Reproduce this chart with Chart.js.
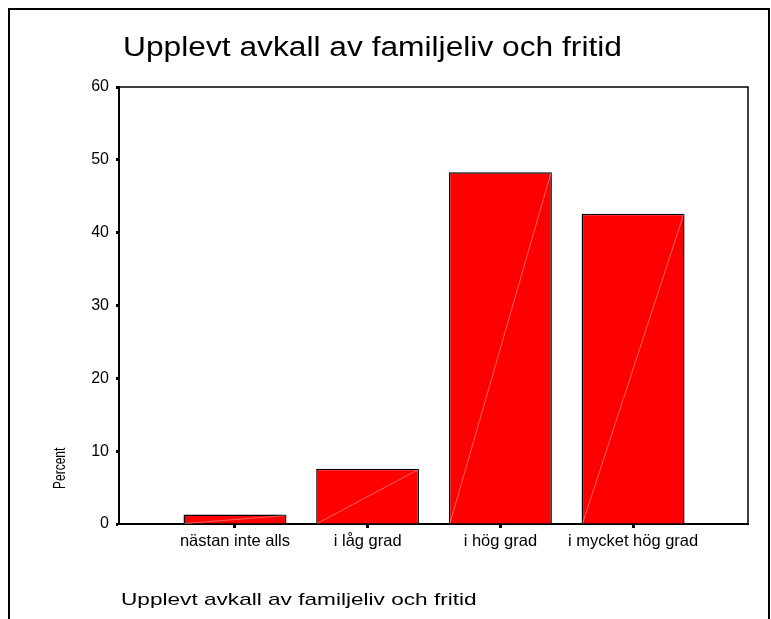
<!DOCTYPE html>
<html lang="sv">
<head>
<meta charset="UTF-8">
<title>Upplevt avkall av familjeliv och fritid</title>
<script src="https://cdn.jsdelivr.net/npm/chart.js"></script>
<style>
  html, body { margin: 0; padding: 0; background: #fff; }
  #wrap { position: relative; width: 771px; height: 619px; }
</style>
</head>
<body>
<div id="wrap"><canvas id="chart"></canvas></div>
<script>
  // Chart texts
  const chartTitle = 'Upplevt avkall av familjeliv och fritid';
  const xTitle = 'Upplevt avkall av familjeliv och fritid';
  const yTitle = 'Percent';

  // Data
  const categories = ['nästan inte alls', 'i låg grad', 'i hög grad', 'i mycket hög grad'];
  const percents = [1.3, 7.6, 48.3, 42.6];
  const yTicks = [0, 10, 20, 30, 40, 50, 60];

  const FONT = '"Liberation Sans", Arial, sans-serif';

  // text drawn with a horizontal stretch, like the original export
  function stretchedText(ctx, text, x, y, size, stretch, rotate) {
    ctx.save();
    ctx.translate(x, y);
    if (rotate) {
      ctx.rotate(-Math.PI / 2);
      ctx.scale(1, stretch);
    } else {
      ctx.scale(stretch, 1);
    }
    ctx.font = size + 'px ' + FONT;
    ctx.fillStyle = '#000';
    ctx.textAlign = 'left';
    ctx.textBaseline = 'alphabetic';
    ctx.fillText(text, 0, 0);
    ctx.restore();
  }

  const decorPlugin = {
    id: 'decor',
    beforeDraw(chart) {
      const ctx = chart.ctx;
      ctx.save();
      ctx.fillStyle = '#fff';
      ctx.fillRect(0, 0, chart.width, chart.height);
      ctx.restore();
    },
    afterDatasetsDraw(chart) {
      // faint diagonal inside each bar
      const ctx = chart.ctx;
      ctx.save();
      ctx.strokeStyle = 'rgba(255,255,255,0.55)';
      ctx.lineWidth = 0.7;
      chart.getDatasetMeta(0).data.forEach(bar => {
        const p = bar.getProps(['x', 'y', 'base', 'width'], true);
        ctx.beginPath();
        ctx.moveTo(p.x - p.width / 2 + 1, p.base);
        ctx.lineTo(p.x + p.width / 2 - 1, p.y + 1);
        ctx.stroke();
      });
      ctx.restore();
    },
    afterDraw(chart) {
      const ctx = chart.ctx;
      const a = chart.chartArea;
      ctx.save();
      ctx.strokeStyle = '#000';
      // plot box
      ctx.lineWidth = 1.5;
      ctx.beginPath();
      ctx.moveTo(a.left, a.top);
      ctx.lineTo(a.right, a.top);
      ctx.lineTo(a.right, a.bottom);
      ctx.stroke();
      // outer frame
      ctx.lineWidth = 2;
      ctx.beginPath();
      ctx.moveTo(9, chart.height + 5);
      ctx.lineTo(9, 9);
      ctx.lineTo(chart.width - 2, 9);
      ctx.lineTo(chart.width - 2, chart.height + 5);
      ctx.stroke();
      ctx.restore();

      stretchedText(ctx, chartTitle, a.left + 4, a.top - 31, 27, 1.175, false);
      stretchedText(ctx, xTitle, a.left + 2, a.bottom + 81, 17, 1.33, false);
      stretchedText(ctx, yTitle, a.left - 54, a.bottom - 35, 12, 1.36, true);
    }
  };

  new Chart(document.getElementById('chart'), {
    type: 'bar',
    data: {
      datasets: [{
        data: percents.map((v, i) => ({ x: i + 1, y: v })),
        backgroundColor: '#ff0000',
        borderColor: '#000',
        borderWidth: 1.5,
        borderSkipped: 'bottom',
        barPercentage: 0.776,
        categoryPercentage: 1
      }]
    },
    options: {
      responsive: true,
      maintainAspectRatio: false,
      animation: false,
      layout: { padding: { top: 87, right: 23, left: 0, bottom: 0 } },
      plugins: {
        legend: { display: false },
        tooltip: { enabled: false },
        title: { display: false }
      },
      scales: {
        x: {
          type: 'linear',
          offset: false,
          min: 0.126,
          max: 4.866,
          afterBuildTicks: s => { s.ticks = categories.map((c, i) => ({ value: i + 1 })); },
          afterFit: s => { s.height = 95; },
          grid: { offset: false, drawOnChartArea: false, drawTicks: true, tickLength: 4, tickWidth: 3, color: '#000' },
          border: { display: true, color: '#000', width: 2 },
          ticks: {
            autoSkip: false,
            maxRotation: 0,
            padding: 4,
            color: '#000',
            font: { family: FONT, size: 16.5 },
            callback: v => categories[v - 1]
          }
        },
        y: {
          min: yTicks[0],
          max: yTicks[yTicks.length - 1],
          afterBuildTicks: s => { s.ticks = yTicks.map(v => ({ value: v })); },
          afterFit: s => { s.width = 119; },
          grid: { drawOnChartArea: false, drawTicks: true, tickLength: 3, tickWidth: 3, color: '#000' },
          border: { display: true, color: '#000', width: 2 },
          ticks: {
            padding: 7,
            color: '#000',
            font: { family: FONT, size: 16 }
          }
        }
      }
    },
    plugins: [decorPlugin]
  });
</script>
</body>
</html>
